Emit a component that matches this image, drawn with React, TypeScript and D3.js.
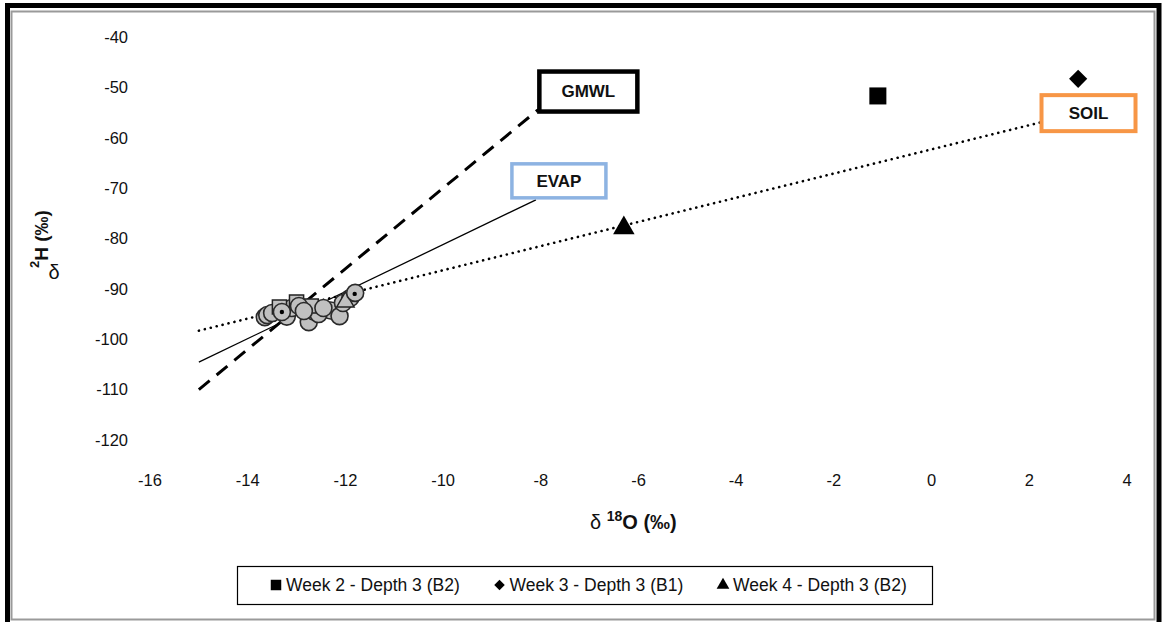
import React from "react";
import * as d3 from "d3";

// Axis ticks
const xTicks = [-16, -14, -12, -10, -8, -6, -4, -2, 0, 2, 4];
const yTicks = [-40, -50, -60, -70, -80, -90, -100, -110, -120];

// Named series (δ18O, δ2H)
const week2Depth3B2: [number, number][] = [[-1.1, -51.7]];
const week3Depth3B1: [number, number][] = [[3.0, -48.3]];
const week4Depth3B2: [number, number][] = [[-6.3, -77.9]];

// Groundwater / stream samples clustered near the GMWL
const sampleCirclesBack: [number, number][] = [
  [-13.65, -95.6], [-13.6, -95.2], [-13.5, -94.8], [-13.2, -95.5],
  [-13.1, -93.8], [-12.75, -96.6], [-12.65, -94.5], [-12.3, -94.3],
  [-12.12, -95.4], [-12.05, -92.8], [-11.9, -91.8], [-12.55, -95.0],
];
const sampleSquares: [number, number][] = [[-13.0, -92.6], [-13.35, -93.6], [-12.7, -93.4]];
const sampleTriangles: [number, number][] = [[-12.0, -92.6]];
const sampleCirclesFront: [number, number][] = [
  [-13.3, -94.6], [-12.95, -93.4], [-12.45, -93.8], [-11.8, -90.8], [-12.85, -94.4],
];
const sampleDots: [number, number][] = [[-13.3, -94.6], [-11.81, -91.0]];

// Reference lines: δ2H = slope · δ18O + intercept, drawn from x0 to x1
const gmwl = { x0: -15, x1: -8.05, slope: 8, intercept: 10, label: "GMWL" };
const evap = { x0: -15, x1: -8.1, slope: 4.67, intercept: -34.5, label: "EVAP" };
const soil = { x0: -15, x1: 2.25, slope: 2.4, intercept: -62.3, label: "SOIL" };

const legendItems = [
  { label: "Week 2 - Depth 3 (B2)", shape: "square" },
  { label: "Week 3 - Depth 3 (B1)", shape: "diamond" },
  { label: "Week 4 - Depth 3 (B2)", shape: "triangle" },
];

const W = 1162;
const H = 622;
const axisFont = "Liberation Sans, Arial, sans-serif";

export default function App() {
  const x = d3.scaleLinear().domain([-16, 4]).range([150, 1127]);
  const y = d3.scaleLinear().domain([-120, -40]).range([440, 37]);

  const linePath = (l: { x0: number; x1: number; slope: number; intercept: number }) =>
    d3.line<number>().x((v) => x(v)).y((v) => y(l.slope * v + l.intercept))([l.x0, l.x1]) || "";

  const sym = (type: d3.SymbolType, size: number) => d3.symbol().type(type).size(size)() || "";
  const square = sym(d3.symbolSquare, 290);
  const diamond = sym(d3.symbolSquare, 165);
  const triangle = sym(d3.symbolTriangle, 200);
  const greySquare = sym(d3.symbolSquare, 200);
  const greyTriangle = sym(d3.symbolTriangle, 130);

  const end = (l: typeof gmwl) => [x(l.x1), y(l.slope * l.x1 + l.intercept)];
  const [gx, gy] = end(gmwl);
  const [ex, ey] = end(evap);
  const [sx, sy] = end(soil);

  const circle = (p: [number, number], key: string) => (
    <circle key={key} cx={x(p[0])} cy={y(p[1])} r={8.5} fill="#c0c0c0" stroke="#2a2a2a" strokeWidth={1.6} />
  );

  return (
    <svg
      width={W}
      height={H}
      style={{ position: "absolute", left: 0, top: 0, background: "#fff" }}
    >
      {/* frame */}
      <rect x={7.5} y={5.5} width={1151.5} height={640} fill="none" stroke="#000" strokeWidth={5} />
      <rect x={11.5} y={11.5} width={1143} height={608} fill="none" stroke="#9a9a9a" strokeWidth={2} />

      {/* y ticks */}
      {yTicks.map((t) => (
        <text key={t} x={128} y={y(t)} dy="0.35em" textAnchor="end" fontFamily={axisFont} fontSize={16.5} fill="#111">
          {t}
        </text>
      ))}
      {/* x ticks */}
      {xTicks.map((t) => (
        <text key={t} x={x(t)} y={480} dy="0.35em" textAnchor="middle" fontFamily={axisFont} fontSize={16.5} fill="#111">
          {t}
        </text>
      ))}

      {/* axis titles */}
      <text x={590} y={522} dy="0.35em" textAnchor="start" fontFamily={axisFont} fontSize={20} fill="#111">
        δ <tspan fontWeight="bold" fontSize={14} dy="-0.6em">18</tspan>
        <tspan fontWeight="bold" dy="0.42em">O (‰)</tspan>
      </text>
      <g transform="translate(46,268) rotate(-90)">
        <text x={0} y={0} fontFamily={axisFont} fontSize={19} fontWeight="bold" fill="#111">
          <tspan fontSize={13} dy="-0.55em">2</tspan>
          <tspan dy="0.5em">H (‰)</tspan>
        </text>
      </g>
      <text x={54} y={272} dy="0.35em" textAnchor="middle" fontFamily={axisFont} fontSize={20} fill="#111">
        δ
      </text>

      {/* reference lines */}
      <path d={linePath(soil)} fill="none" stroke="#000" strokeWidth={2.6} strokeDasharray="0.1 6" strokeLinecap="round" />
      <path d={linePath(evap)} fill="none" stroke="#000" strokeWidth={1.3} />
      <path d={linePath(gmwl)} fill="none" stroke="#000" strokeWidth={3} strokeDasharray="14 9" />

      {/* cluster of samples */}
      {sampleCirclesBack.map((p, i) => circle(p, "cb" + i))}
      {sampleSquares.map(([a, b], i) => (
        <path key={"s" + i} d={greySquare} transform={`translate(${x(a)},${y(b)})`} fill="#c0c0c0" stroke="#222" strokeWidth={1.5} />
      ))}
      {sampleTriangles.map(([a, b], i) => (
        <path key={"t" + i} d={greyTriangle} transform={`translate(${x(a)},${y(b)})`} fill="#c0c0c0" stroke="#222" strokeWidth={1.5} />
      ))}
      {sampleCirclesFront.map((p, i) => circle(p, "cf" + i))}
      {sampleDots.map(([a, b], i) => (
        <circle key={"d" + i} cx={x(a)} cy={y(b)} r={2.2} fill="#000" />
      ))}

      {/* highlighted series */}
      {week2Depth3B2.map(([a, b], i) => (
        <path key={"w2" + i} d={square} transform={`translate(${x(a)},${y(b)})`} fill="#000" />
      ))}
      {week3Depth3B1.map(([a, b], i) => (
        <path key={"w3" + i} d={diamond} transform={`translate(${x(a)},${y(b)}) rotate(45)`} fill="#000" />
      ))}
      {week4Depth3B2.map(([a, b], i) => (
        <path key={"w4" + i} d={triangle} transform={`translate(${x(a)},${y(b)})`} fill="#000" />
      ))}

      {/* line labels */}
      <rect x={gx + 1} y={gy - 38} width={98} height={40} fill="#fff" stroke="#000" strokeWidth={4.5} />
      <text x={gx + 50} y={gy - 18} dy="0.35em" textAnchor="middle" fontFamily={axisFont} fontSize={17} fontWeight="bold" fill="#111">
        {gmwl.label}
      </text>
      <rect x={ex - 24} y={ey - 36} width={94} height={34} fill="#fff" stroke="#8db3e2" strokeWidth={3.5} />
      <text x={ex + 23} y={ey - 19} dy="0.35em" textAnchor="middle" fontFamily={axisFont} fontSize={17} fontWeight="bold" fill="#111">
        {evap.label}
      </text>
      <rect x={sx} y={sy - 27} width={94} height={36} fill="#fff" stroke="#f79646" strokeWidth={4} />
      <text x={sx + 47} y={sy - 9} dy="0.35em" textAnchor="middle" fontFamily={axisFont} fontSize={17} fontWeight="bold" fill="#111">
        {soil.label}
      </text>

      {/* legend */}
      <rect x={237.5} y={566.5} width={695} height={38} fill="#fff" stroke="#000" strokeWidth={1.2} />
      {legendItems.map((it, i) => {
        const lx = 276 + i * 223.5;
        const d =
          it.shape === "square" ? sym(d3.symbolSquare, 110) : it.shape === "diamond" ? sym(d3.symbolSquare, 55) : sym(d3.symbolTriangle, 70);
        const rot = it.shape === "diamond" ? " rotate(45)" : "";
        return (
          <g key={it.label}>
            <path d={d} transform={`translate(${lx},585)${rot}`} fill="#000" />
            <text x={lx + 10} y={585} dy="0.35em" fontFamily="Liberation Sans Narrow, Arial Narrow, Liberation Sans, sans-serif" fontSize={17.5} fill="#111">
              {it.label}
            </text>
          </g>
        );
      })}
    </svg>
  );
}
